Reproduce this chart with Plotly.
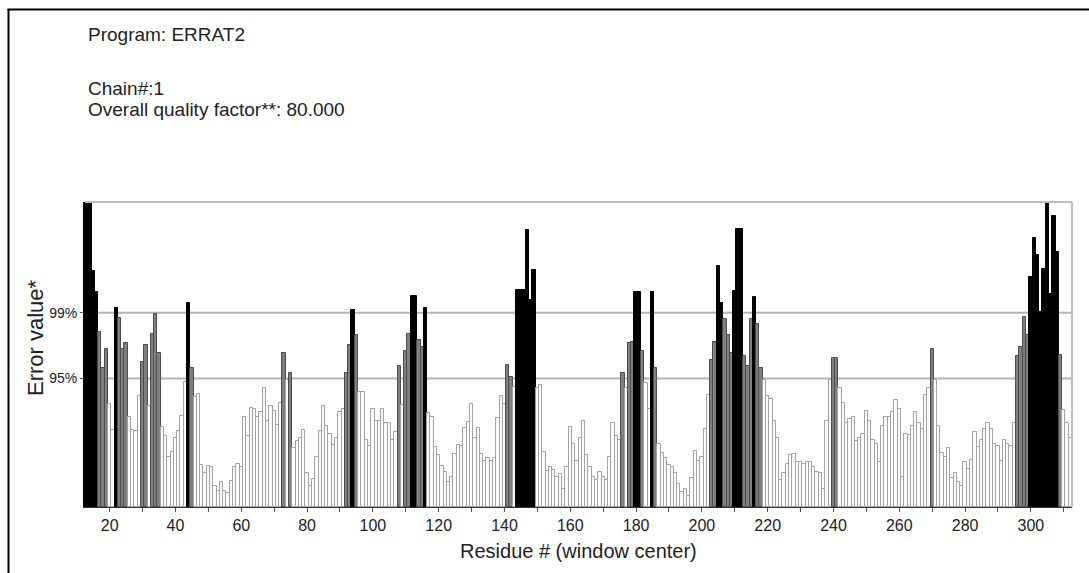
import plotly.graph_objects as go

# ---------------- data ----------------
residues = list(range(13, 313))  # window centre residue numbers

error_values = [
    # 13-62
    27, 27, 20.9, 19.0, 15.5, 12.3, 14.0, 9.1, 6.8, 17.6,
    16.7, 14.0, 14.5, 8.0, 6.8, 6.7, 9.8, 12.8, 14.3, 8.9,
    15.3, 17.1, 13.6, 7.1, 6.3, 4.4, 4.9, 6.1, 6.7, 8.1,
    11.1, 18.1, 12.3, 9.7, 10.0, 3.7, 3.0, 3.6, 3.5, 1.9,
    1.4, 2.2, 1.4, 1.2, 2.3, 3.5, 3.8, 3.5, 8.0, 6.3,
    # 63-111
    8.8, 8.7, 8.0, 8.4, 10.5, 7.6, 8.9, 8.5, 7.3, 9.2,
    13.6, 11.2, 11.9, 5.2, 5.8, 6.1, 6.8, 3.0, 1.9, 2.5,
    4.4, 6.7, 8.9, 7.2, 6.5, 5.5, 6.1, 8.4, 8.7, 11.9,
    14.3, 17.4, 15.2, 10.2, 10.2, 5.9, 5.4, 8.7, 7.6, 7.6,
    8.7, 7.4, 7.4, 5.9, 6.6, 12.5, 9.0, 13.8, 15.3,
    # 112-156
    18.7, 18.7, 14.8, 14.2, 17.6, 8.3, 8.0, 5.3, 4.6, 3.6,
    3.1, 2.2, 2.7, 4.7, 5.5, 5.4, 7.0, 7.5, 9.1, 6.1,
    7.0, 4.7, 4.1, 4.3, 4.1, 4.3, 7.9, 9.8, 9.1, 12.6,
    11.5, 10.6, 19.2, 19.2, 19.2, 24.5, 18.3, 21.0, 10.5, 10.8,
    4.9, 3.2, 3.5, 3.3, 2.7,
    # 157-206
    2.9, 1.6, 3.5, 7.1, 5.6, 4.1, 6.1, 7.6, 4.6, 3.5,
    2.7, 2.4, 3.1, 2.7, 2.4, 4.4, 7.4, 6.3, 5.9, 11.9,
    10.5, 14.5, 14.6, 19.0, 19.0, 13.8, 11.0, 8.7, 19.0, 12.3,
    5.6, 4.8, 4.3, 3.7, 3.5, 3.0, 2.0, 1.3, 1.6, 1.0,
    2.6, 5.0, 4.1, 4.4, 6.9, 9.9, 13.0, 14.6, 21.3, 18.1,
    # 207-256
    16.6, 15.2, 13.6, 19.1, 24.6, 24.6, 13.4, 12.5, 16.6, 18.6,
    16.2, 12.3, 11.2, 9.8, 9.6, 7.6, 6.1, 2.4, 3.0, 3.8,
    4.6, 4.7, 4.0, 4.0, 3.8, 4.0, 4.0, 3.5, 3.1, 3.0,
    1.6, 7.6, 11.2, 13.2, 13.2, 10.5, 9.2, 7.4, 7.8, 8.0,
    5.8, 6.1, 6.5, 8.5, 7.6, 5.9, 5.6, 4.0, 7.2, 8.0,
    # 257-312
    8.0, 8.4, 9.5, 8.7, 2.7, 6.5, 6.4, 7.2, 8.4, 7.4,
    6.9, 9.9, 10.5, 14.0, 11.2, 7.2, 4.8, 4.4, 5.2, 2.6,
    3.0, 2.2, 1.9, 4.0, 3.4, 4.2, 6.6, 5.3, 5.9, 6.9,
    7.4, 6.9, 5.6, 5.4, 4.1, 5.9, 5.6, 5.4, 7.4, 13.4,
    14.2, 16.8, 15.2, 20.4, 23.8, 22.3, 17.3, 21.1, 27, 18.9,
    25.8, 22.6, 13.5, 8.6, 7.4, 6.1,
]

thresh_95 = 11.38
thresh_99 = 17.19

x_tick_vals = list(range(20, 301, 20))
y_tick_vals = [thresh_95, thresh_99]
y_tick_text = ["95%", "99%"]

header_lines = ["Program: ERRAT2", "Chain#:1", "Overall quality factor**: 80.000"]
x_title = "Residue # (window center)"
y_title = "Error value*"

# ---------------- styling ----------------
fill, edge = [], []
for v in error_values:
    if v > thresh_99:
        fill.append("#000000"); edge.append("#000000")
    elif v > thresh_95:
        fill.append("#7f7f7f"); edge.append("#4d4d4d")
    else:
        fill.append("#fbfbfb"); edge.append("#a2a2a2")

W, H = 1089, 573
ML, MR, MT, MB = 85, 17, 202, 66
PW = W - ML - MR
PH = H - MT - MB


def px_x(px):
    return (px - ML) / PW


def px_y(py):
    return (H - MB - py) / PH


fig = go.Figure(
    go.Bar(
        x=residues,
        y=error_values,
        width=1,
        marker=dict(color=fill, line=dict(color=edge, width=1)),
        hoverinfo="x+y",
    )
)

font_main = "Liberation Sans, Arial, sans-serif"

shapes = []
for t in y_tick_vals:
    shapes.append(dict(type="line", xref="paper", x0=0, x1=1, yref="y", y0=t, y1=t,
                       line=dict(color="#b4b4b4", width=2), layer="below"))
# plot frame (top, right) in grey
shapes.append(dict(type="line", xref="paper", x0=0, x1=1, yref="paper", y0=1, y1=1,
                   line=dict(color="#bdbdbd", width=2)))
shapes.append(dict(type="line", xref="paper", x0=1, x1=1, yref="paper", y0=0, y1=1,
                   line=dict(color="#bdbdbd", width=2)))
# outer figure border (left and top)
shapes.append(dict(type="line", xref="paper", yref="paper",
                   x0=px_x(8.5), x1=px_x(8.5), y0=px_y(9), y1=px_y(H + 2),
                   line=dict(color="#000000", width=2)))
shapes.append(dict(type="line", xref="paper", yref="paper",
                   x0=px_x(7.5), x1=px_x(W + 2), y0=px_y(9.5), y1=px_y(9.5),
                   line=dict(color="#000000", width=2)))

annotations = []
for text, cy in zip(header_lines, [35, 88, 109]):
    annotations.append(dict(text=text, xref="paper", yref="paper", x=px_x(86), y=px_y(cy),
                            xanchor="left", yanchor="middle", showarrow=False,
                            font=dict(family=font_main, size=19, color="#222222")))
annotations.append(dict(text=y_title, xref="paper", yref="paper", x=px_x(35), y=px_y(338),
                        xanchor="center", yanchor="middle", textangle=-90, showarrow=False,
                        font=dict(family=font_main, size=22, color="#222222")))
annotations.append(dict(text=x_title, xref="paper", yref="paper", x=px_x(578), y=px_y(551),
                        xanchor="center", yanchor="middle", showarrow=False,
                        font=dict(family=font_main, size=20, color="#222222")))

fig.update_layout(
    width=W, height=H,
    margin=dict(l=ML, r=MR, t=MT, b=MB, pad=0),
    paper_bgcolor="white", plot_bgcolor="white",
    bargap=0, showlegend=False,
    shapes=shapes, annotations=annotations,
    xaxis=dict(
        range=[12.5, 312.5], tickvals=x_tick_vals, ticks="outside", ticklen=4,
        tickcolor="#555555", showline=True, linecolor="#333333", linewidth=1,
        showgrid=False, zeroline=False,
        tickfont=dict(family=font_main, size=16, color="#222222"),
        minor=dict(ticks="outside", ticklen=4, dtick=10, tick0=0, tickcolor="#555555", showgrid=False),
    ),
    yaxis=dict(
        range=[0, 27], tickvals=y_tick_vals, ticktext=y_tick_text, ticks="outside", ticklen=3,
        tickcolor="#555555", showline=True, linecolor="#000000", linewidth=2,
        showgrid=False, zeroline=False,
        tickfont=dict(family=font_main, size=14, color="#222222"),
    ),
)

fig.write_html("out.html")
